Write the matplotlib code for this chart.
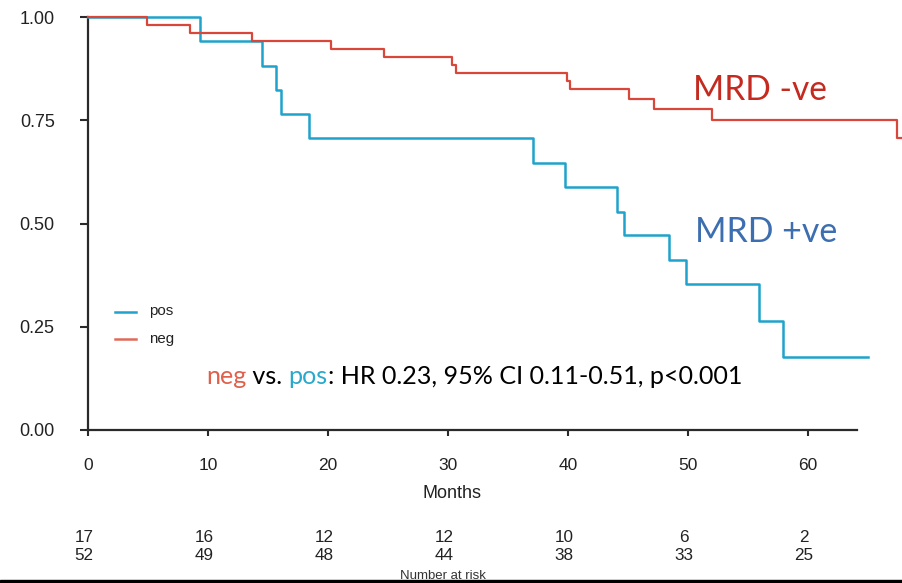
import matplotlib
matplotlib.use("Agg")
import matplotlib.pyplot as plt
from matplotlib.patches import Rectangle

# ---------------- data ----------------
pos_times = [0, 9.3, 14.5, 15.7, 16.05, 18.4, 37.05, 39.75, 44.05, 44.67, 48.4, 49.8, 55.9, 57.9, 65.0]
pos_surv = [1.0, 0.941, 0.882, 0.824, 0.765, 0.706, 0.647, 0.588, 0.529, 0.471, 0.412, 0.353, 0.265, 0.176, 0.176]

neg_times = [0, 4.9, 8.5, 13.7, 20.25, 24.7, 30.3, 30.7, 39.9, 40.2, 45.1, 47.2, 52.0, 67.4, 68.5]
neg_surv = [1.0, 0.981, 0.962, 0.942, 0.922, 0.902, 0.884, 0.864, 0.845, 0.825, 0.801, 0.777, 0.751, 0.708, 0.708]

x_ticks = [0, 10, 20, 30, 40, 50, 60]
y_ticks = [0.0, 0.25, 0.50, 0.75, 1.00]
y_ticklabels = ["0.00", "0.25", "0.50", "0.75", "1.00"]
risk_pos = [17, 16, 12, 12, 10, 6, 2]
risk_neg = [52, 49, 48, 44, 38, 33, 25]

legend_labels = ["pos", "neg"]
annot_parts = ["neg", " vs. ", "pos", ": HR 0.23, 95% CI 0.11-0.51, p<0.001"]

# ---------------- style ----------------
W, H = 903, 583
RED = "#d9473b"
BLUE = "#1fa3cc"
TXT_RED = "#c42a1f"
TXT_BLUE = "#3d6eb0"
ANN_RED = "#e0604c"
ANN_BLUE = "#2aa9cc"
DARK = "#2a2a2a"
SANS = ["Liberation Sans", "DejaVu Sans"]
CAL = ["Lato", "DejaVu Sans"]

plt.rcParams["font.family"] = SANS

fig = plt.figure(figsize=(W / 100, H / 100), dpi=100)
fig.patch.set_facecolor("white")

def fx(px):
    return px / W

def fy(py):
    return 1 - py / H

x0_px, x_per = 88, 12.0  # 0 months at 88px, 12px per month
ax_left, ax_right = 88, 903
ax_top, ax_bot = 17, 430
ax = fig.add_axes([fx(ax_left), fy(ax_bot), fx(ax_right) - fx(ax_left), (ax_bot - ax_top) / H])
ax.set_xlim(0, (ax_right - ax_left) / x_per)
ax.set_ylim(0, 1)
ax.patch.set_alpha(0)

ax.step(pos_times, pos_surv, where="post", color=BLUE, lw=1.8, clip_on=False, zorder=3)
ax.step(neg_times, neg_surv, where="post", color=RED, lw=1.6, clip_on=False, zorder=3)

for s in ["top", "right"]:
    ax.spines[s].set_visible(False)
for s in ["left", "bottom"]:
    ax.spines[s].set_color(DARK)
    ax.spines[s].set_linewidth(1.6)
ax.spines["bottom"].set_bounds(0, (857 - x0_px) / x_per)

ax.set_yticks(y_ticks)
ax.set_yticklabels(y_ticklabels)
ax.set_xticks(x_ticks)
ax.set_xticklabels([str(t) for t in x_ticks])
ax.tick_params(axis="y", length=6, width=1.5, color=DARK, pad=18, labelsize=13, labelcolor="#222222")
ax.tick_params(axis="x", length=4.5, width=1.5, color=DARK, pad=16, labelsize=12.5, labelcolor="#222222")

# legend (manual)
leg_y = [311.5, 339]
leg_cols = [BLUE, "#e06a5a"]
for yy, c, lab in zip(leg_y, leg_cols, legend_labels):
    fig.add_artist(plt.Line2D([fx(115), fx(136)], [fy(yy), fy(yy)], color=c, lw=1.8, transform=fig.transFigure))
    fig.text(fx(149), fy(yy), lab, fontsize=10.8, color="#222222", va="center", ha="left")

fig.canvas.draw()
renderer = fig.canvas.get_renderer()

def fit_text(s, left_px, base_px, width_px, color, family, fs0=20):
    t = fig.text(fx(left_px), fy(base_px), s, fontsize=fs0, color=color, family=family,
                 ha="left", va="baseline")
    w = t.get_window_extent(renderer).width
    t.set_fontsize(fs0 * width_px / w)
    return t

fit_text("MRD -ve", 693, 100, 134, TXT_RED, CAL)
fit_text("MRD +ve", 695, 242, 142, TXT_BLUE, CAL)

# multi-coloured annotation
ann_cols = [ANN_RED, "black", ANN_BLUE, "black"]
full = "".join(annot_parts)
tmp = fig.text(0, 0, full, fontsize=20, family=CAL)
wfull = tmp.get_window_extent(renderer).width
tmp.remove()
ann_fs = 20 * 537 / wfull
xpos = 206
for part, c in zip(annot_parts, ann_cols):
    t = fig.text(fx(xpos), fy(384), part, fontsize=ann_fs, color=c, family=CAL, ha="left", va="baseline")
    probe = fig.text(0, 0, part + "|", fontsize=ann_fs, family=CAL)
    bar = fig.text(0, 0, "|", fontsize=ann_fs, family=CAL)
    wpart = probe.get_window_extent(renderer).width - bar.get_window_extent(renderer).width
    probe.remove(); bar.remove()
    xpos += wpart

# axis title
fig.text(fx(452), fy(494), "Months", fontsize=13, color="#222222", ha="center", va="center")

# number at risk
for t, a, b in zip(x_ticks, risk_pos, risk_neg):
    xp = x0_px + t * x_per - 4
    fig.text(fx(xp), fy(537), str(a), fontsize=12.3, color="#222222", ha="center", va="center")
    fig.text(fx(xp), fy(556), str(b), fontsize=12.3, color="#222222", ha="center", va="center")
fig.text(fx(443), fy(576), "Number at risk", fontsize=9.5, color="#333333", ha="center", va="center")

# bottom black border
fig.add_artist(Rectangle((0, 0), 1, 3 / H, transform=fig.transFigure, color="black", zorder=10))

fig.savefig("out.png", dpi=100)
